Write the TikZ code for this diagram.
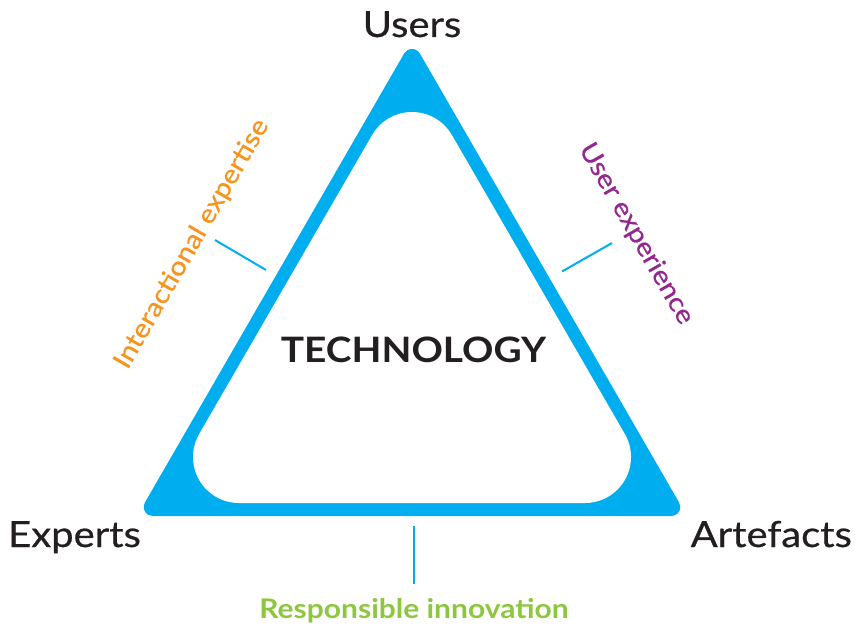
\documentclass[tikz,border=0pt]{standalone}
\usepackage{fontspec}
\setmainfont{Lato}[FakeStretch=1.11]
\newfontfamily\medfont{Lato}[FakeStretch=1.11, FakeBold=0.6]
\usetikzlibrary{calc}
\definecolor{tri}{HTML}{00AEEF}
\definecolor{ink}{HTML}{231F20}
\definecolor{orangelab}{HTML}{F7941D}
\definecolor{purplelab}{HTML}{92278F}
\definecolor{greenlab}{HTML}{8DC63F}
\tikzset{
  corner/.style={font=\medfont\fontsize{36}{40}\selectfont, text=ink, inner sep=0pt},
  sidelabel/.style={font=\medfont\fontsize{26}{30}\selectfont, inner sep=0pt},
  tick/.style={draw=tri, line width=2pt}
}
\begin{document}
\begin{tikzpicture}[x=1pt,y=1pt]
\useasboundingbox (0,0) rectangle (856,625);
% outer corner centres (r=9)
\coordinate (o1) at (412,567.1);
\coordinate (o2) at (152.7,118);
\coordinate (o3) at (671.3,118);
% inner corner centres (r=46)
\coordinate (i1) at (412,467);
\coordinate (i2) at (239,168);
\coordinate (i3) at (585,168);
\fill[tri] ($(o2)+(0,-9)$) -- ($(o3)+(0,-9)$) arc[start angle=-90,end angle=30,radius=9]
  -- ($(o1)+(30:9)$) arc[start angle=30,end angle=150,radius=9]
  -- ($(o2)+(150:9)$) arc[start angle=150,end angle=270,radius=9] -- cycle;
\fill[white] ($(i2)+(0,-46)$) -- ($(i3)+(0,-46)$) arc[start angle=-90,end angle=30,radius=46]
  -- ($(i1)+(30:46)$) arc[start angle=30,end angle=150,radius=46]
  -- ($(i2)+(150:46)$) arc[start angle=150,end angle=270,radius=46] -- cycle;

\node[corner, anchor=base] (users) at (412,588) {Users};
\node[corner, anchor=base west] (experts) at (8,78) {Experts};
\node[corner, anchor=base east] (artefacts) at (852,78) {Artefacts};
\node[font=\fontsize{35}{40}\selectfont\bfseries, text=ink, anchor=base] (tech) at (413.5,262.5) {TECHNOLOGY};

\node[sidelabel, text=orangelab, rotate=60] (inter) at (192,381) {Interactional expertise};
\node[sidelabel, text=purplelab, rotate=-60] (ux) at (636,391) {User experience};
\node[sidelabel, text=greenlab, font=\fontsize{27}{30}\selectfont\bfseries, anchor=base] (ri) at (414,7) {Responsible innovation};

\coordinate (t1a) at (215,385);
\coordinate (t1b) at (266,355);
\coordinate (t2a) at (612,382);
\coordinate (t2b) at (562,353.5);
\coordinate (t3a) at (413.5,99);
\coordinate (t3b) at (413.5,41);
\draw[tick] (t1a) -- (t1b);
\draw[tick] (t2a) -- (t2b);
\draw[tick] (t3a) -- (t3b);
\end{tikzpicture}
\end{document}
